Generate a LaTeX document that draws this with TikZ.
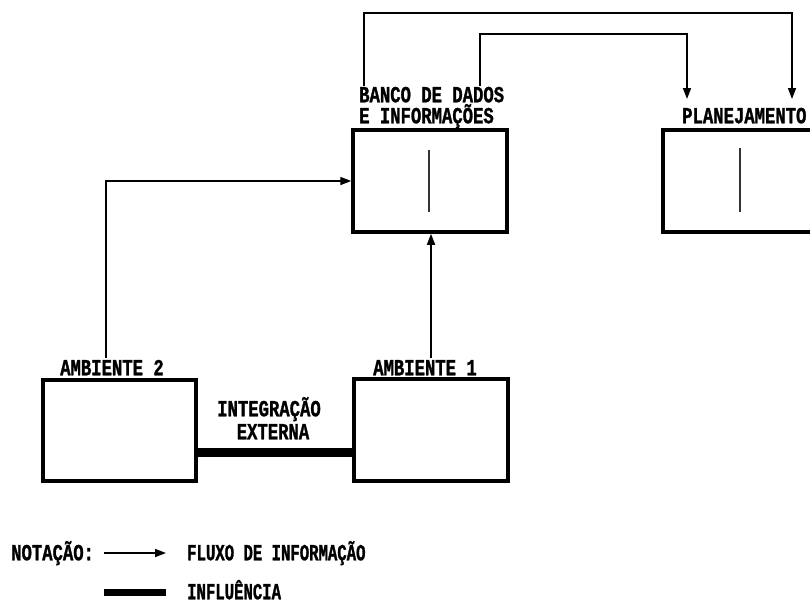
\documentclass[tikz,border=0pt]{standalone}
\usepackage{fontspec}
\usetikzlibrary{arrows.meta}
\newfontfamily\lab[FakeStretch=0.75,FakeBold=1.2]{Liberation Mono}
\newfontfamily\labn[FakeStretch=0.68,FakeBold=1.2]{Liberation Mono}
\begin{document}
\begin{tikzpicture}[x=1pt,y=-1pt,
  box/.style={draw, line width=3.5pt, minimum width=154pt, minimum height=102pt, inner sep=0pt},
  txt/.style={inner sep=0pt, text height=14.5pt, text depth=0pt, font=\lab\bfseries\fontsize{23}{23}\selectfont},
  txtn/.style={inner sep=0pt, text height=14.5pt, text depth=0pt, font=\labn\bfseries\fontsize{23}{23}\selectfont},
  flow/.style={line width=1.6pt, -{Triangle[length=11pt,width=8pt]}},
  infl/.style={line width=9pt},
  innermark/.style={line width=1.8pt, black!80}]
\path[use as bounding box, fill=white] (0,0) rectangle (810,606);

% boxes
\node[box] (banco) at (430,181) {};
\node[box] (plan) at (740,181) {};
\node[box, minimum width=153pt, minimum height=101pt] (amb2) at (119.5,430.5) {};
\node[box] (amb1) at (431,430) {};

% inner marks
\draw[innermark] (429,150) -- (429,212);
\draw[innermark] (740,148) -- (740,212);

% labels
\node[txt, anchor=west] (bancoA) at (359,95) {BANCO DE DADOS};
\node[txt, anchor=west] (bancoB) at (359,116) {E INFORMAÇÕES};
\node[txt, anchor=west] (planl) at (682,116) {PLANEJAMENTO};
\node[txt] (amb2l) at (112,368) {AMBIENTE 2};
\node[txt] (amb1l) at (425,368) {AMBIENTE 1};
\node[txt] (integ) at (269,409) {INTEGRAÇÃO};
\node[txt] (ext) at (273,432) {EXTERNA};

% connectors
\coordinate (bs1) at (364,86);
\coordinate (pt1) at (792,99);
\coordinate (bs2) at (480,86);
\coordinate (pt2) at (687,99);
\draw[flow] (bs1) -- ++(0,-73) -| (pt1);
\draw[flow] (bs2) -- ++(0,-52) -| (pt2);

\coordinate (a2src) at (106,358);
\draw[flow] (a2src) |- (banco.west);
\coordinate (a1src) at (431,358);
\draw[flow] (a1src) -- (banco.south -| a1src);

\draw[infl] (amb2.east |- 0,452) -- (amb1.west |- 0,452);

% legend
\node[txt, anchor=west] (notacao) at (11,553) {NOTAÇÃO:};
\coordinate (la1) at (104,553);
\coordinate (la2) at (166,553);
\draw[flow] (la1) -- (la2);
\node[txtn, anchor=west] (fluxo) at (187,553) {FLUXO DE INFORMAÇÃO};
\coordinate (lb1) at (104,592);
\coordinate (lb2) at (166,592);
\draw[line width=7pt] (lb1) -- (lb2);
\node[txtn, anchor=west] (influ) at (187,592) {INFLUÊNCIA};
\end{tikzpicture}
\end{document}
